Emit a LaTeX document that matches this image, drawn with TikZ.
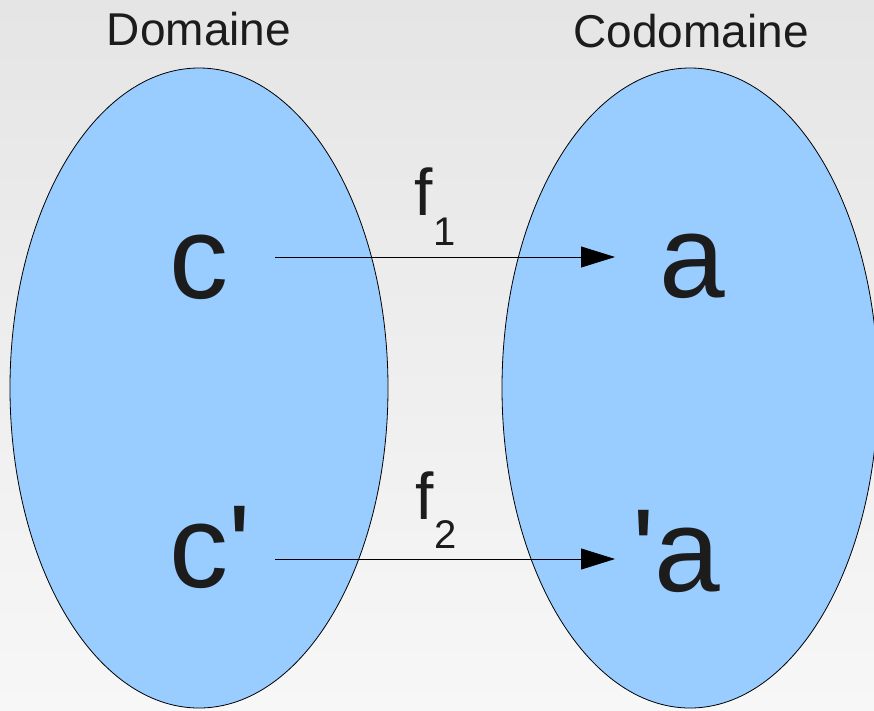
\documentclass[tikz,border=0pt]{standalone}
\usepackage{fontspec}
\newfontfamily\labelfont{Liberation Sans}
\usetikzlibrary{shapes.geometric,arrows.meta}
\definecolor{setfill}{HTML}{99CCFF}
\definecolor{ink}{HTML}{1C1C1C}
\definecolor{bgtop}{HTML}{E5E5E5}
\definecolor{bgbot}{HTML}{F7F7F7}
\begin{document}
\begin{tikzpicture}[x=1pt,y=-1pt,
  setshape/.style={ellipse,draw=black,line width=0.8pt,fill=setfill,inner sep=0pt,
    minimum width=#1,minimum height=640pt},
  title/.style={font=\labelfont\fontsize{46}{46}\selectfont,text=ink,inner sep=0pt,anchor=base},
  elem/.style={font=\labelfont\fontsize{118}{118}\selectfont,text=ink,inner sep=0pt,anchor=base west},
  fname/.style={font=\labelfont\fontsize{66}{66}\selectfont,text=ink,inner sep=0pt,anchor=base west},
  fsub/.style={font=\labelfont\fontsize{40}{40}\selectfont,text=ink,inner sep=0pt,anchor=base west},
  maparrow/.style={draw=black,line width=0.8pt,-{Triangle[length=34pt,width=21pt]}}]
  % background with a soft vertical gradient
  \useasboundingbox (0,0) rectangle (874,710);
  \fill[top color=bgtop,bottom color=bgbot] (0,0) rectangle (874,710);

  % the two sets
  \node[setshape=378pt] (dom) at (199,388) {};
  \node[setshape=376pt] (cod) at (690,388) {};

  % headings
  \node[title] (domtitle) at (199,45) {Domaine};
  \node[title] (codtitle) at (691,47) {Codomaine};

  % elements
  \node[elem] (c)  at (169,298) {c};
  \node[elem] (cp) at (169,587) {c\char"27};
  \node[elem] (a)  at (659,297) {a};
  \node[elem] (ap) at (632,591) {\char"27 a};

  % function labels
  \node[fname] (f1) at (414,215) {f};
  \node[fsub]  (s1) at (433,245) {1};
  \node[fname] (f2) at (415,519) {f};
  \node[fsub]  (s2) at (434,548) {2};

  % arrow end points
  \coordinate (c-out)  at (275,257);
  \coordinate (a-in)   at (615,257);
  \coordinate (cp-out) at (275,559);
  \coordinate (ap-in)  at (615,559);

  \draw[maparrow] (c-out) -- (a-in);
  \draw[maparrow] (cp-out) -- (ap-in);
\end{tikzpicture}
\end{document}
